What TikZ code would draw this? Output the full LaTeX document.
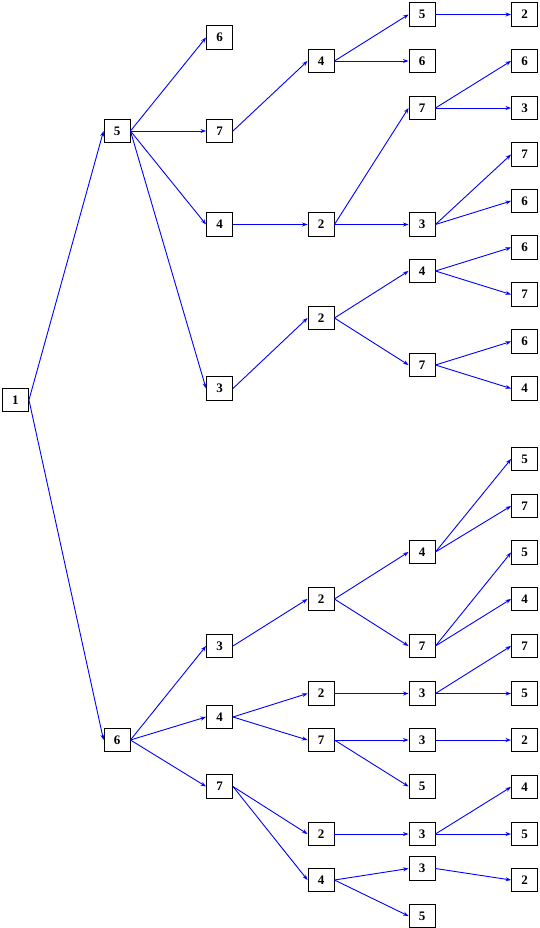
\documentclass[tikz,border=0pt]{standalone}
\usepackage{fontspec}
\setmainfont{Liberation Serif}
\usetikzlibrary{arrows.meta}
\definecolor{edgeblue}{RGB}{0,0,255}
\tikzset{
  box/.style={draw=black, line width=0.9pt, minimum width=26pt, minimum height=23.5pt, inner sep=0pt, font=\fontsize{13}{15}\selectfont\bfseries},
  edge/.style={draw=edgeblue, line width=0.9pt, -{Stealth[length=5.5pt,width=4pt]}},
}
\begin{document}
\begin{tikzpicture}[x=1pt,y=-1pt]
\useasboundingbox (0,0) rectangle (540,928);
\node[box] (n1) at (15.5,400) {1};
% col1
\node[box] (a5) at (117,131) {5};
\node[box] (a6) at (117,740) {6};
% col2
\node[box] (b6) at (219.5,37.5) {6};
\node[box] (b7) at (219.5,131) {7};
\node[box] (b4) at (219.5,224.5) {4};
\node[box] (b3) at (219.5,388.5) {3};
\node[box] (b3l) at (219.5,646) {3};
\node[box] (b4l) at (219.5,717) {4};
\node[box] (b7l) at (219.5,786.5) {7};
% col3
\node[box] (c4) at (321,61) {4};
\node[box] (c2) at (321,224.5) {2};
\node[box] (c2b) at (321,318) {2};
\node[box] (c2c) at (321,599) {2};
\node[box] (c2d) at (321,693.5) {2};
\node[box] (c7) at (321,740) {7};
\node[box] (c2e) at (321,834) {2};
\node[box] (c4e) at (321,880) {4};
% col4
\node[box] (d5) at (422,14.5) {5};
\node[box] (d6) at (422,61) {6};
\node[box] (d7) at (422,108) {7};
\node[box] (d3) at (422,224.5) {3};
\node[box] (d4) at (422,271) {4};
\node[box] (d7b) at (422,365) {7};
\node[box] (d4c) at (422,552) {4};
\node[box] (d7c) at (422,646) {7};
\node[box] (d3d) at (422,693.5) {3};
\node[box] (d3e) at (422,740) {3};
\node[box] (d5e) at (422,786.5) {5};
\node[box] (d3f) at (422,834) {3};
\node[box] (d3g) at (422,868.5) {3};
\node[box] (d5g) at (422,916) {5};
% col5
\node[box] (e2) at (524.5,14.5) {2};
\node[box] (e6) at (524.5,61) {6};
\node[box] (e3) at (524.5,108) {3};
\node[box] (e7) at (524.5,154.5) {7};
\node[box] (e6b) at (524.5,201) {6};
\node[box] (e6c) at (524.5,247.5) {6};
\node[box] (e7c) at (524.5,294.5) {7};
\node[box] (e6d) at (524.5,341.5) {6};
\node[box] (e4d) at (524.5,388.5) {4};
\node[box] (e5) at (524.5,459) {5};
\node[box] (e7e) at (524.5,506) {7};
\node[box] (e5f) at (524.5,552.5) {5};
\node[box] (e4f) at (524.5,599) {4};
\node[box] (e7g) at (524.5,646) {7};
\node[box] (e5h) at (524.5,693.5) {5};
\node[box] (e2i) at (524.5,740) {2};
\node[box] (e4j) at (524.5,787) {4};
\node[box] (e5j) at (524.5,834) {5};
\node[box] (e2k) at (524.5,880) {2};
% edges
\foreach \s/\t in {n1/a5, n1/a6,
  a5/b6, a5/b7, a5/b4, a5/b3,
  b7/c4, c4/d5, c4/d6, d5/e2,
  b4/c2, c2/d7, c2/d3, d7/e6, d7/e3, d3/e7, d3/e6b,
  b3/c2b, c2b/d4, c2b/d7b, d4/e6c, d4/e7c, d7b/e6d, d7b/e4d,
  a6/b3l, a6/b4l, a6/b7l,
  b3l/c2c, c2c/d4c, c2c/d7c, d4c/e5, d4c/e7e, d7c/e5f, d7c/e4f,
  b4l/c2d, b4l/c7, c2d/d3d, d3d/e7g, d3d/e5h, c7/d3e, c7/d5e, d3e/e2i,
  b7l/c2e, b7l/c4e, c2e/d3f, d3f/e4j, d3f/e5j, c4e/d3g, c4e/d5g, d3g/e2k}
  \draw[edge] (\s.east) -- (\t.west);
\end{tikzpicture}
\end{document}
